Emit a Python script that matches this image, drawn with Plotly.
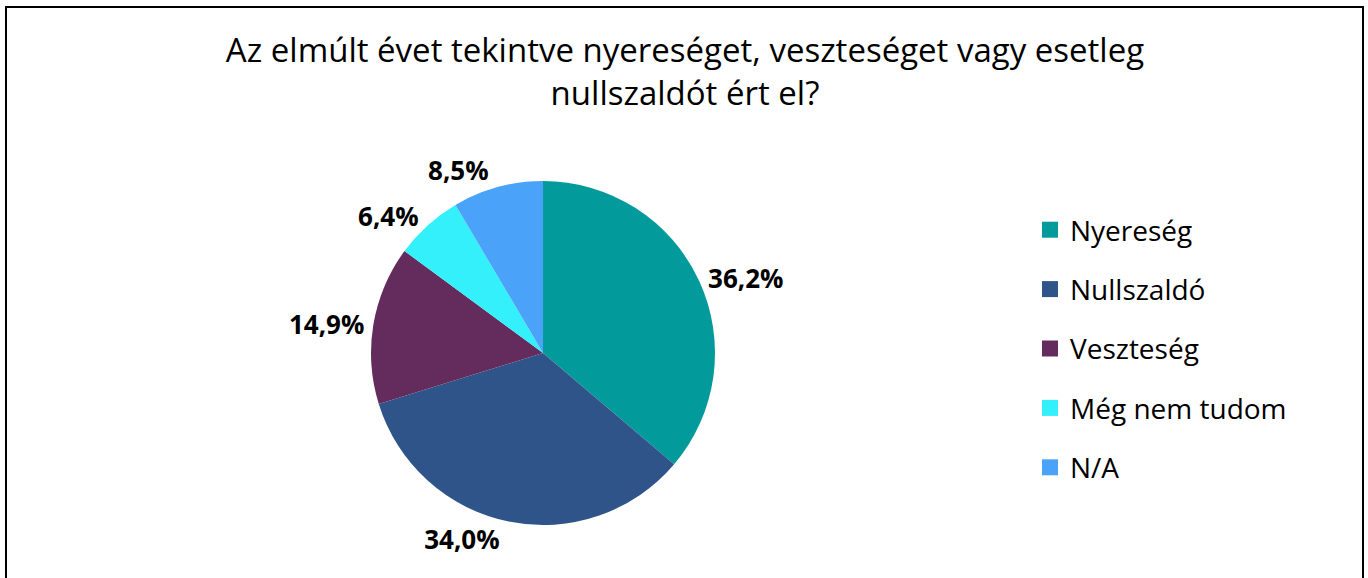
import plotly.graph_objects as go

categories = ["Nyereség", "Nullszaldó", "Veszteség", "Még nem tudom", "N/A"]
values = [36.2, 34.0, 14.9, 6.4, 8.5]
colors = ["#039A9C", "#2E5489", "#632C5C", "#33F0FB", "#4AA3F8"]
title_text = "Az elmúlt évet tekintve nyereséget, veszteséget vagy esetleg<br>nullszaldót ért el?"

W, H = 1368, 578
cx, cy, r = 543, 353, 172
FONT = "Open Sans, Noto Sans, sans-serif"

fig = go.Figure()
fig.add_trace(go.Pie(
    labels=categories, values=values, sort=False, direction="clockwise", rotation=0,
    marker=dict(colors=colors, line=dict(width=0)),
    texttemplate="<b>%{value:.1f}%</b>", textposition="outside",
    textfont=dict(family=FONT, size=26, color="#000000"),
    showlegend=False, hoverinfo="label+percent",
    domain=dict(x=[(cx - r) / W, (cx + r) / W], y=[(H - cy - r) / H, (H - cy + r) / H]),
))
for c, col in zip(categories, colors):
    fig.add_trace(go.Scatter(
        x=[None], y=[None], mode="markers", name=c, legendgroup=c,
        marker=dict(symbol="square", size=18, color=col), showlegend=True,
    ))

fig.update_layout(
    width=W, height=H, margin=dict(l=0, r=0, t=0, b=0),
    paper_bgcolor="white", plot_bgcolor="white", separators=", ",
    title=dict(text=title_text, x=685 / W, xanchor="center", y=1 - 62 / H, yanchor="top",
               font=dict(family=FONT, size=33, color="#000000")),
    xaxis=dict(visible=False), yaxis=dict(visible=False),
    legend=dict(x=1030 / W, y=1 - 205 / H, xanchor="left", yanchor="top",
                font=dict(family=FONT, size=28, color="#000000"),
                tracegroupgap=20),
    shapes=[dict(type="rect", xref="paper", yref="paper", x0=6 / W, x1=1363 / W,
                 y0=-0.1, y1=1 - 7 / H, line=dict(color="#000000", width=2))],
)
fig.write_html("out.html", config={"displayModeBar": False},
               post_script="document.body.style.margin='0';document.body.style.overflow='hidden';")
